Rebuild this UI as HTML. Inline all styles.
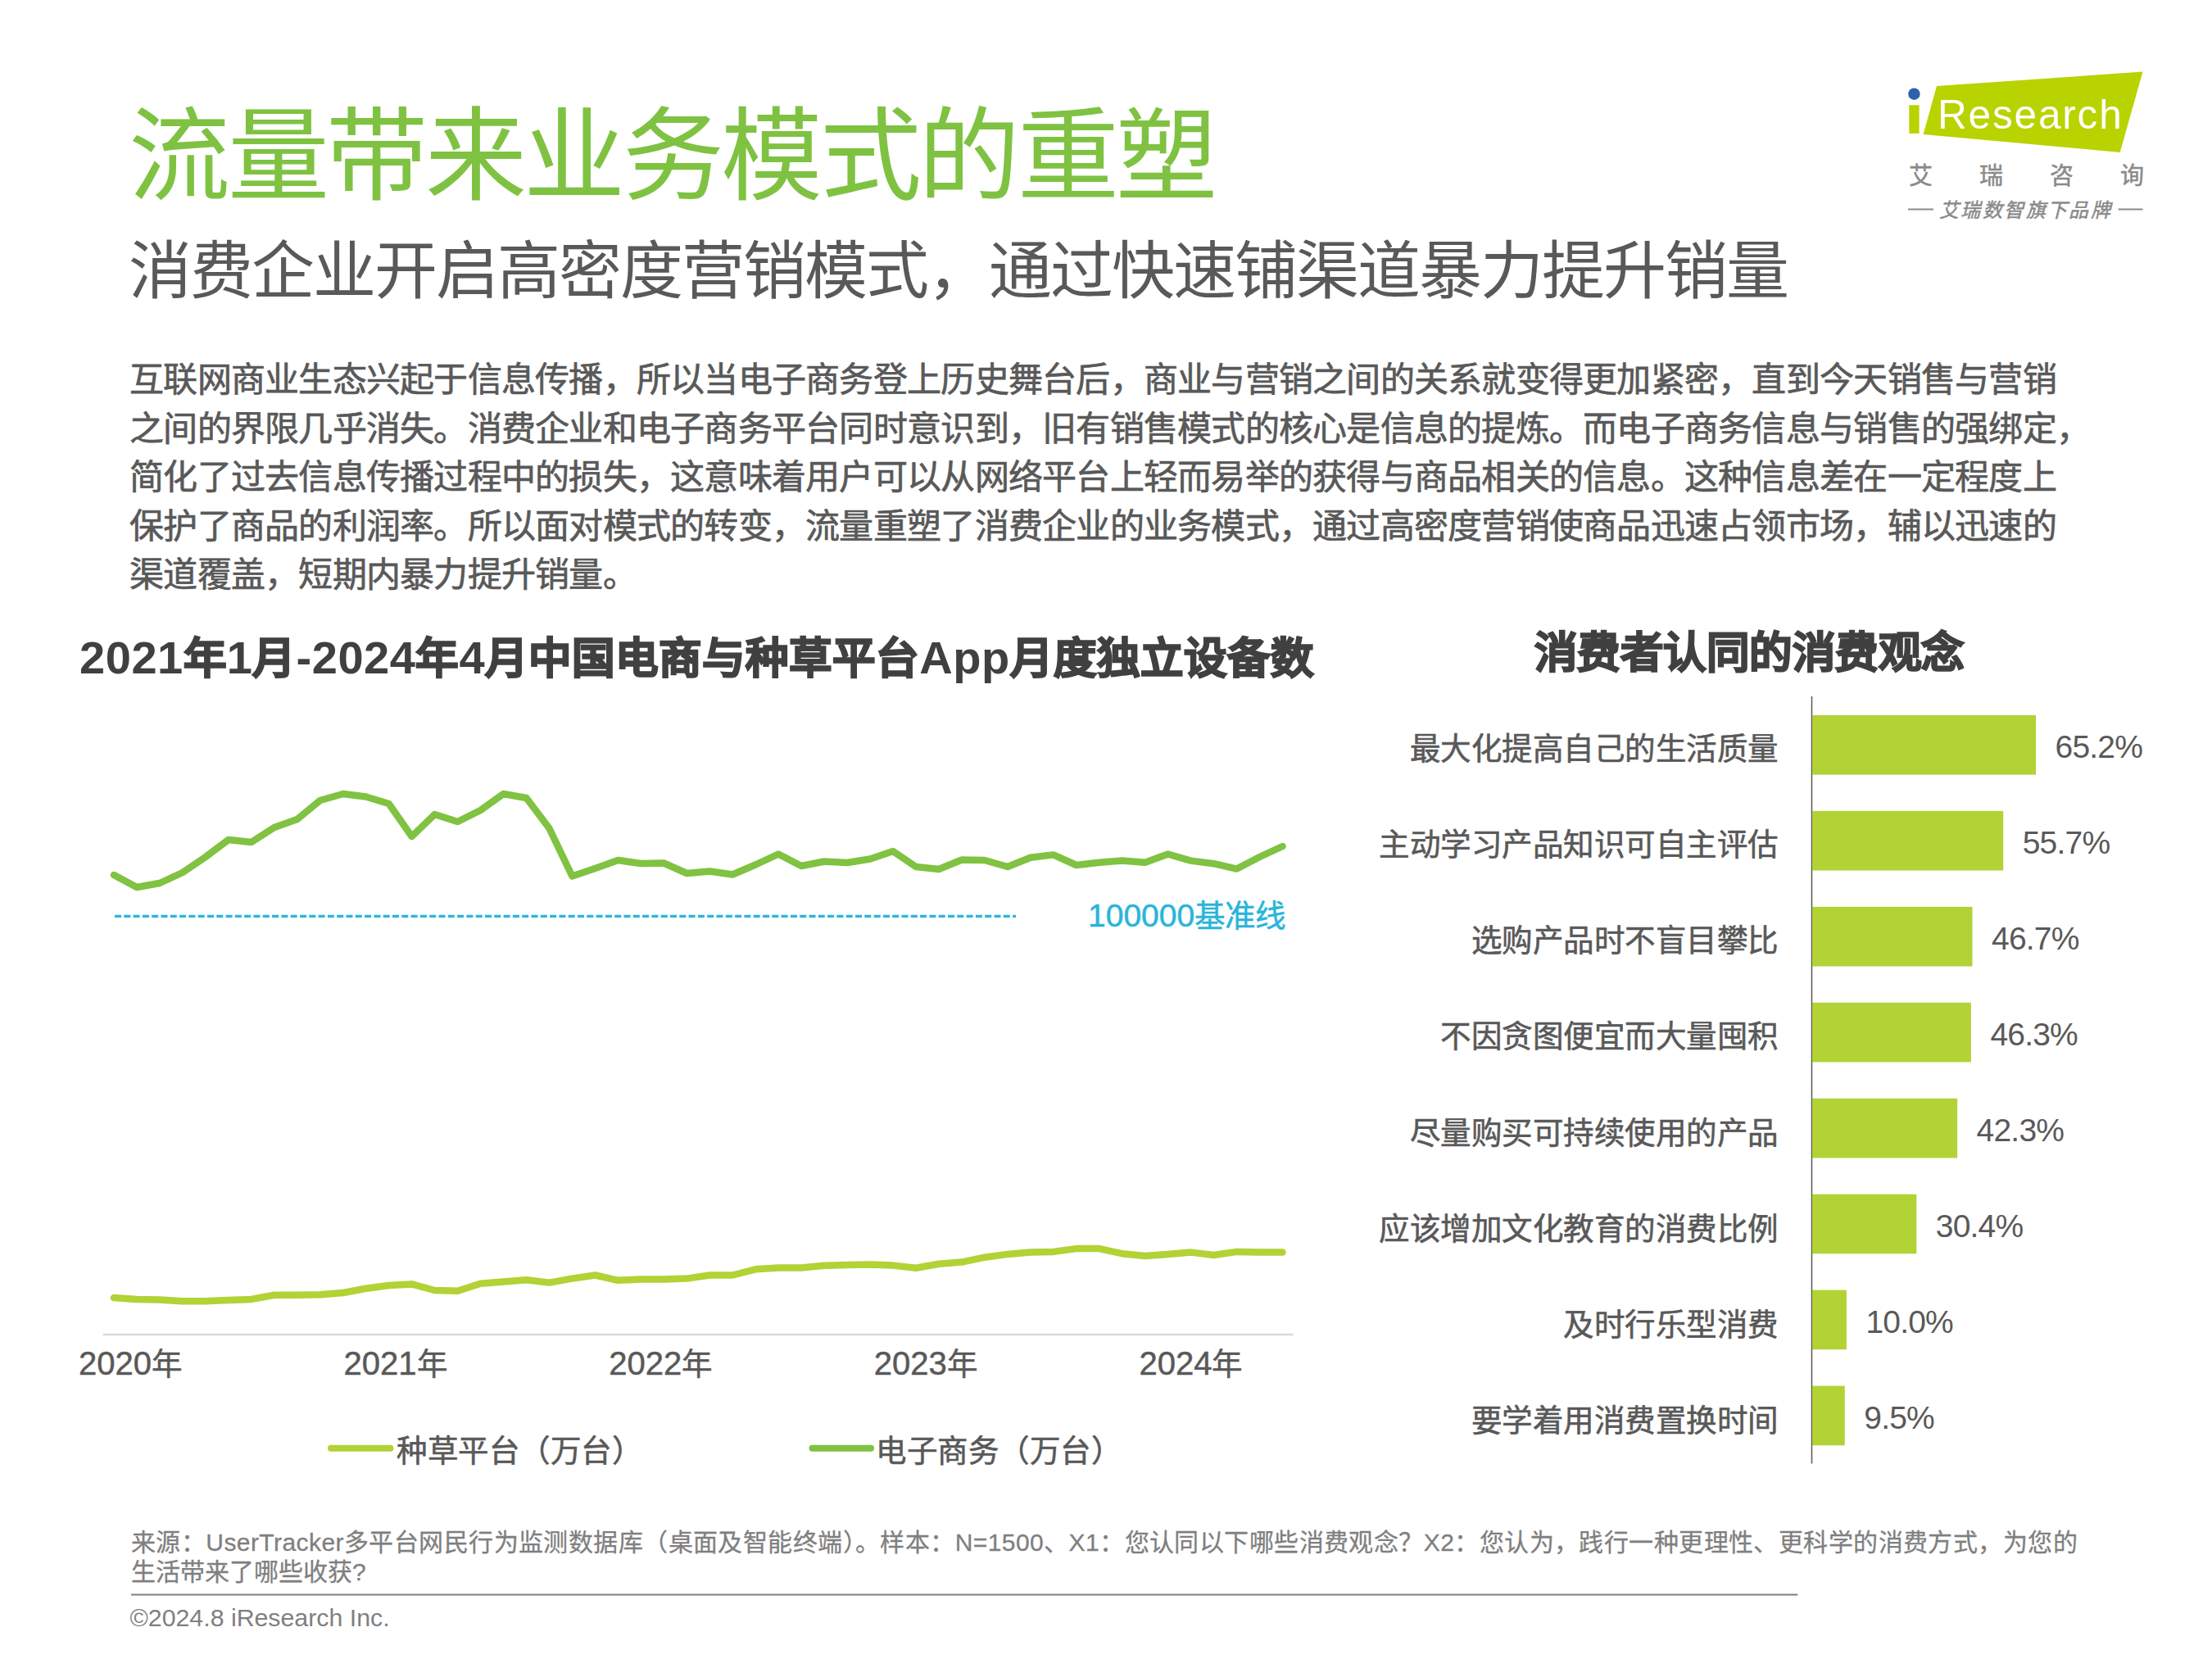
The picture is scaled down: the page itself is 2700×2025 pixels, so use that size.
<!DOCTYPE html>
<html lang="zh-CN"><head><meta charset="utf-8">
<style>
html,body{margin:0;padding:0;background:#fff;}
body{width:2700px;height:2025px;position:relative;overflow:hidden;font-family:"Liberation Sans",sans-serif;}
svg{position:absolute;left:0;top:0;font-family:"Liberation Sans",sans-serif;}
</style></head><body>
<svg width="2700" height="2025" viewBox="0 0 2700 2025">
<text x="157" y="233.5" font-size="124" fill="#7fc242" text-anchor="start" font-weight="normal" letter-spacing="-3.5" >流量带来业务模式的重塑</text>
<text x="157" y="358" font-size="77" fill="#595959" text-anchor="start" font-weight="normal" letter-spacing="-2" >消费企业开启高密度营销模式，通过快速铺渠道暴力提升销量</text>
<text x="158" y="478.0" font-size="42" fill="#595959" text-anchor="start" font-weight="normal" letter-spacing="-0.74" stroke="#595959" stroke-width="0.7" >互联网商业生态兴起于信息传播，所以当电子商务登上历史舞台后，商业与营销之间的关系就变得更加紧密，直到今天销售与营销</text>
<text x="158" y="537.55" font-size="42" fill="#595959" text-anchor="start" font-weight="normal" letter-spacing="-0.74" stroke="#595959" stroke-width="0.7" >之间的界限几乎消失。消费企业和电子商务平台同时意识到，旧有销售模式的核心是信息的提炼。而电子商务信息与销售的强绑定，</text>
<text x="158" y="597.1" font-size="42" fill="#595959" text-anchor="start" font-weight="normal" letter-spacing="-0.74" stroke="#595959" stroke-width="0.7" >简化了过去信息传播过程中的损失，这意味着用户可以从网络平台上轻而易举的获得与商品相关的信息。这种信息差在一定程度上</text>
<text x="158" y="656.65" font-size="42" fill="#595959" text-anchor="start" font-weight="normal" letter-spacing="-0.74" stroke="#595959" stroke-width="0.7" >保护了商品的利润率。所以面对模式的转变，流量重塑了消费企业的业务模式，通过高密度营销使商品迅速占领市场，辅以迅速的</text>
<text x="158" y="716.2" font-size="42" fill="#595959" text-anchor="start" font-weight="normal" letter-spacing="-0.74" stroke="#595959" stroke-width="0.7" >渠道覆盖，短期内暴力提升销量。</text>
<text x="97" y="821.5" font-size="52.5" fill="#404040" text-anchor="start" font-weight="bold" letter-spacing="0" stroke="#404040" stroke-width="2" ><tspan font-size="56" stroke-width="0" letter-spacing="0.55">2021</tspan>年<tspan font-size="56" stroke-width="0" letter-spacing="0.55">1</tspan>月<tspan font-size="56" stroke-width="0" letter-spacing="0.55">-2024</tspan>年<tspan font-size="56" stroke-width="0" letter-spacing="0.55">4</tspan>月中国电商与种草平台<tspan font-size="56" stroke-width="0" letter-spacing="0.55">App</tspan>月度独立设备数</text>
<text x="1872.5" y="815" font-size="52.5" fill="#404040" text-anchor="start" font-weight="bold" letter-spacing="-0.5" stroke="#404040" stroke-width="2" >消费者认同的消费观念</text>
<line x1="140" y1="1118.3" x2="1240" y2="1118.3" stroke="#29b5d9" stroke-width="3.2" stroke-dasharray="8 3.3"/>
<line x1="125.8" y1="1629" x2="1578.6" y2="1629" stroke="#d9d9d9" stroke-width="2.4"/>
<polyline points="139.0,1068 167.0,1083 194.9,1078 222.9,1065 250.9,1046 278.9,1025 306.8,1028 334.8,1010 362.8,1000 390.7,977 418.7,969 446.7,972.5 474.6,981 502.6,1021 530.6,994 558.6,1003 586.5,989 614.5,969 642.5,974 670.4,1011 698.4,1069.5 726.4,1060 754.4,1050 782.3,1054 810.3,1053.5 838.3,1066 866.2,1063.5 894.2,1067.5 922.2,1055.5 950.1,1042.5 978.1,1057 1006.1,1051.5 1034.1,1053 1062.0,1048.5 1090.0,1039 1118.0,1058 1145.9,1061 1173.9,1049.5 1201.9,1050 1229.9,1058 1257.8,1046.7 1285.8,1043.4 1313.8,1056 1341.7,1052.8 1369.7,1050.6 1397.7,1052.8 1425.6,1042.5 1453.6,1050.6 1481.6,1054.2 1509.6,1060.6 1537.5,1046 1565.5,1033" fill="none" stroke="#80c241" stroke-width="8.5" stroke-linejoin="round" stroke-linecap="round"/>
<polyline points="139.0,1584.1 167.0,1585.9 194.9,1586.6 222.9,1588.2 250.9,1588.2 278.9,1587 306.8,1585.9 334.8,1580.7 362.8,1580.7 390.7,1580.2 418.7,1578 446.7,1572.8 474.6,1569 502.6,1567.4 530.6,1575 558.6,1575.7 586.5,1566.7 614.5,1564.6 642.5,1562.2 670.4,1565.6 698.4,1560.6 726.4,1556.5 754.4,1562.8 782.3,1561.5 810.3,1561.5 838.3,1560.6 866.2,1556.5 894.2,1556.5 922.2,1549.3 950.1,1547.5 978.1,1547.5 1006.1,1544.8 1034.1,1544 1062.0,1543.6 1090.0,1544.6 1118.0,1547.8 1145.9,1542.8 1173.9,1540.6 1201.9,1534.7 1229.9,1530.9 1257.8,1528.6 1285.8,1527.9 1313.8,1524.1 1341.7,1524.1 1369.7,1530.2 1397.7,1533.1 1425.6,1530.9 1453.6,1528.6 1481.6,1532 1509.6,1527.9 1537.5,1528.6 1565.5,1528.6" fill="none" stroke="#b2d235" stroke-width="8.5" stroke-linejoin="round" stroke-linecap="round"/>
<text x="1328" y="1130.6" font-size="37.5" fill="#29b5d9" text-anchor="start" font-weight="normal" letter-spacing="0" stroke="#29b5d9" stroke-width="0.5" ><tspan font-size="39">100000</tspan>基准线</text>
<text x="96.0" y="1678" font-size="37.5" fill="#595959" text-anchor="start" font-weight="normal" letter-spacing="0" stroke="#595959" stroke-width="0.5" ><tspan font-size="40">2020</tspan>年</text>
<text x="419.6" y="1678" font-size="37.5" fill="#595959" text-anchor="start" font-weight="normal" letter-spacing="0" stroke="#595959" stroke-width="0.5" ><tspan font-size="40">2021</tspan>年</text>
<text x="743.2" y="1678" font-size="37.5" fill="#595959" text-anchor="start" font-weight="normal" letter-spacing="0" stroke="#595959" stroke-width="0.5" ><tspan font-size="40">2022</tspan>年</text>
<text x="1066.8" y="1678" font-size="37.5" fill="#595959" text-anchor="start" font-weight="normal" letter-spacing="0" stroke="#595959" stroke-width="0.5" ><tspan font-size="40">2023</tspan>年</text>
<text x="1390.4" y="1678" font-size="37.5" fill="#595959" text-anchor="start" font-weight="normal" letter-spacing="0" stroke="#595959" stroke-width="0.5" ><tspan font-size="40">2024</tspan>年</text>
<line x1="404" y1="1767.8" x2="476.4" y2="1767.8" stroke="#b2d235" stroke-width="8" stroke-linecap="round"/>
<line x1="991.5" y1="1767.8" x2="1063" y2="1767.8" stroke="#80c241" stroke-width="8" stroke-linecap="round"/>
<text x="484" y="1783.5" font-size="37.5" fill="#595959" text-anchor="start" font-weight="normal" letter-spacing="0.5" stroke="#595959" stroke-width="0.6" >种草平台（万台）</text>
<text x="1069" y="1783.5" font-size="37.5" fill="#595959" text-anchor="start" font-weight="normal" letter-spacing="0.5" stroke="#595959" stroke-width="0.6" >电子商务（万台）</text>
<line x1="2211.5" y1="850" x2="2211.5" y2="1786.5" stroke="#595959" stroke-width="1.5"/>
<rect x="2212" y="873.0" width="273.0" height="72.6" fill="#b2d235"/>
<text x="2170.5" y="926.5" font-size="37.5" fill="#595959" text-anchor="end" font-weight="normal" letter-spacing="0.5" stroke="#595959" stroke-width="0.6" >最大化提高自己的生活质量</text>
<text x="2508.5" y="925.0" font-size="39" fill="#595959" text-anchor="start" font-weight="normal" letter-spacing="-0.8" >65.2%</text>
<rect x="2212" y="989.9" width="233.2" height="72.6" fill="#b2d235"/>
<text x="2170.5" y="1043.7" font-size="37.5" fill="#595959" text-anchor="end" font-weight="normal" letter-spacing="0.5" stroke="#595959" stroke-width="0.6" >主动学习产品知识可自主评估</text>
<text x="2468.7" y="1041.9" font-size="39" fill="#595959" text-anchor="start" font-weight="normal" letter-spacing="-0.8" >55.7%</text>
<rect x="2212" y="1106.9" width="195.5" height="72.6" fill="#b2d235"/>
<text x="2170.5" y="1161.0" font-size="37.5" fill="#595959" text-anchor="end" font-weight="normal" letter-spacing="0.5" stroke="#595959" stroke-width="0.6" >选购产品时不盲目攀比</text>
<text x="2431.0" y="1158.9" font-size="39" fill="#595959" text-anchor="start" font-weight="normal" letter-spacing="-0.8" >46.7%</text>
<rect x="2212" y="1223.8" width="193.9" height="72.6" fill="#b2d235"/>
<text x="2170.5" y="1278.2" font-size="37.5" fill="#595959" text-anchor="end" font-weight="normal" letter-spacing="0.5" stroke="#595959" stroke-width="0.6" >不因贪图便宜而大量囤积</text>
<text x="2429.4" y="1275.8" font-size="39" fill="#595959" text-anchor="start" font-weight="normal" letter-spacing="-0.8" >46.3%</text>
<rect x="2212" y="1340.8" width="177.1" height="72.6" fill="#b2d235"/>
<text x="2170.5" y="1395.5" font-size="37.5" fill="#595959" text-anchor="end" font-weight="normal" letter-spacing="0.5" stroke="#595959" stroke-width="0.6" >尽量购买可持续使用的产品</text>
<text x="2412.6" y="1392.8" font-size="39" fill="#595959" text-anchor="start" font-weight="normal" letter-spacing="-0.8" >42.3%</text>
<rect x="2212" y="1457.7" width="127.3" height="72.6" fill="#b2d235"/>
<text x="2170.5" y="1512.7" font-size="37.5" fill="#595959" text-anchor="end" font-weight="normal" letter-spacing="0.5" stroke="#595959" stroke-width="0.6" >应该增加文化教育的消费比例</text>
<text x="2362.8" y="1509.7" font-size="39" fill="#595959" text-anchor="start" font-weight="normal" letter-spacing="-0.8" >30.4%</text>
<rect x="2212" y="1574.6" width="41.9" height="72.6" fill="#b2d235"/>
<text x="2170.5" y="1629.9" font-size="37.5" fill="#595959" text-anchor="end" font-weight="normal" letter-spacing="0.5" stroke="#595959" stroke-width="0.6" >及时行乐型消费</text>
<text x="2277.4" y="1626.6" font-size="39" fill="#595959" text-anchor="start" font-weight="normal" letter-spacing="-0.8" >10.0%</text>
<rect x="2212" y="1691.6" width="39.8" height="72.6" fill="#b2d235"/>
<text x="2170.5" y="1747.2" font-size="37.5" fill="#595959" text-anchor="end" font-weight="normal" letter-spacing="0.5" stroke="#595959" stroke-width="0.6" >要学着用消费置换时间</text>
<text x="2275.3" y="1743.6" font-size="39" fill="#595959" text-anchor="start" font-weight="normal" letter-spacing="-0.8" >9.5%</text>
<text x="160" y="1893" font-size="30" fill="#7f7f7f" text-anchor="start" font-weight="normal" letter-spacing="0.43" stroke="#7f7f7f" stroke-width="0.3" >来源：UserTracker多平台网民行为监测数据库（桌面及智能终端）。样本：N=1500、X1：您认同以下哪些消费观念？X2：您认为，践行一种更理性、更科学的消费方式，为您的</text>
<text x="160" y="1929" font-size="30" fill="#7f7f7f" text-anchor="start" font-weight="normal" letter-spacing="0" stroke="#7f7f7f" stroke-width="0.3" >生活带来了哪些收获?</text>
<line x1="160" y1="1946.5" x2="2194.3" y2="1946.5" stroke="#7f7f7f" stroke-width="2"/>
<text x="158.5" y="1985" font-size="30.3" fill="#7f7f7f" text-anchor="start" font-weight="normal" letter-spacing="0" >©2024.8 iResearch Inc.</text>
<polygon points="2364,104.9 2615.5,87.6 2587.7,185.9 2347.6,163.9" fill="#b9d300"/>
<rect x="2330.3" y="128.3" width="12.3" height="34.6" fill="#b9d300"/>
<circle cx="2336.4" cy="114.7" r="7.2" fill="#2e62ad"/>
<text x="2365" y="157.4" font-size="49.5" fill="#fff" textLength="224.7" lengthAdjust="spacing">Research</text>
<text x="2344.4" y="225" font-size="29" fill="#8a8a8a" text-anchor="middle" font-weight="normal" letter-spacing="0" stroke="#8a8a8a" stroke-width="0.5" >艾</text>
<text x="2430.3" y="225" font-size="29" fill="#8a8a8a" text-anchor="middle" font-weight="normal" letter-spacing="0" stroke="#8a8a8a" stroke-width="0.5" >瑞</text>
<text x="2516.2" y="225" font-size="29" fill="#8a8a8a" text-anchor="middle" font-weight="normal" letter-spacing="0" stroke="#8a8a8a" stroke-width="0.5" >咨</text>
<text x="2602.1" y="225" font-size="29" fill="#8a8a8a" text-anchor="middle" font-weight="normal" letter-spacing="0" stroke="#8a8a8a" stroke-width="0.5" >询</text>
<line x1="2329" y1="255.5" x2="2360" y2="255.5" stroke="#8a8a8a" stroke-width="2"/>
<line x1="2585.6" y1="255.5" x2="2615.5" y2="255.5" stroke="#8a8a8a" stroke-width="2"/>
<text x="2367" y="265" font-size="24" fill="#8a8a8a" text-anchor="start" font-weight="normal" letter-spacing="2.4" stroke="#8a8a8a" stroke-width="0.5" font-style="italic">艾瑞数智旗下品牌</text>
</svg>
</body></html>
